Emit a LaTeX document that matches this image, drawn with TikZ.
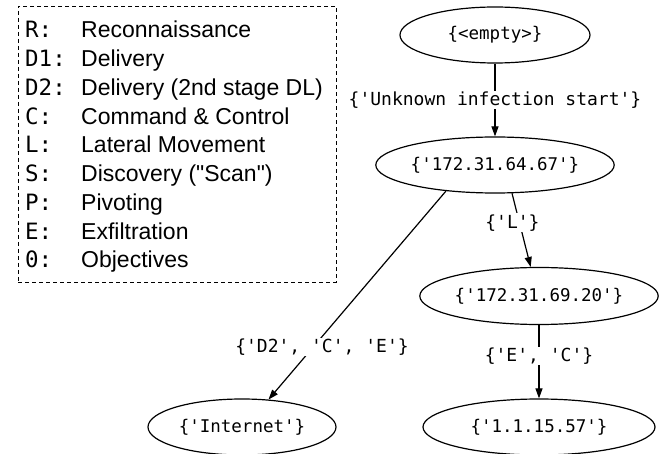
\documentclass[tikz,border=0pt]{standalone}
\usepackage{fontspec}
\setmainfont{Liberation Sans}[Ligatures=TeXOff]
\setmonofont{DejaVu Sans Mono}
\usetikzlibrary{shapes.geometric,arrows.meta}
\begin{document}
\begin{tikzpicture}[x=1pt,y=-1pt,
  gnode/.style={draw, line width=1.2pt, ellipse, inner sep=0pt,
    font=\ttfamily\fontsize{17.5}{20}\selectfont},
  elabel/.style={fill=white, inner sep=1pt,
    font=\ttfamily\fontsize{18}{21}\selectfont},
  keytext/.style={anchor=base west, inner sep=0pt,
    font=\ttfamily\fontsize{22.5}{28}\selectfont},
  desctext/.style={anchor=base west, inner sep=0pt,
    font=\fontsize{23}{28}\selectfont},
  conn/.style={line width=1.2pt, -{Triangle[length=10pt,width=7pt]}}
]
\useasboundingbox (0,0) rectangle (662,454);

% legend
\node (legend) [draw, line width=0.9pt, dash pattern=on 4pt off 3pt,
  minimum width=318pt, minimum height=276pt, inner sep=0pt] at (177,144) {};
\node[keytext] (k1) at (25,38) {R:};
\node[keytext] (k2) at (25,66.75) {D1:};
\node[keytext] (k3) at (25,95.5) {D2:};
\node[keytext] (k4) at (25,124.25) {C:};
\node[keytext] (k5) at (25,153) {L:};
\node[keytext] (k6) at (25,181.75) {S:};
\node[keytext] (k7) at (25,210.5) {P:};
\node[keytext] (k8) at (25,239.25) {E:};
\node[keytext] (k9) at (25,268) {0:};
\node[desctext] (d1) at (81,38) {Reconnaissance};
\node[desctext] (d2) at (81,66.75) {Delivery};
\node[desctext] (d3) at (81,95.5) {Delivery (2nd stage DL)};
\node[desctext] (d4) at (81,124.25) {Command \& Control};
\node[desctext] (d5) at (81,153) {Lateral Movement};
\node[desctext] (d6) at (81,181.75) {Discovery ("Scan")};
\node[desctext] (d7) at (81,210.5) {Pivoting};
\node[desctext] (d8) at (81,239.25) {Exfiltration};
\node[desctext] (d9) at (81,268) {Objectives};

% graph nodes
\node[gnode, minimum width=190pt, minimum height=56pt] (e0) at (495,35) {\{<empty>\}};
\node[gnode, minimum width=233pt, minimum height=56pt] (n1) at (495,165) {\{'172.31.64.67'\}};
\node[gnode, minimum width=232pt, minimum height=57pt] (n2) at (539,296) {\{'172.31.69.20'\}};
\node[gnode, minimum width=188pt, minimum height=56pt] (n3) at (242,427) {\{'Internet'\}};
\node[gnode, minimum width=232pt, minimum height=56pt] (n4) at (539,427) {\{'1.1.15.57'\}};

% connectors
\draw[conn] (e0) -- node[elabel] (l0) {\{'Unknown infection start'\}} (n1);
\draw[conn] (n1.208) -- (n3.46);
\node[elabel] (l1) at (322,347) {\{'D2', 'C', 'E'\}};
\draw[conn] (n1.301) -- node[elabel, pos=0.4, xshift=-7pt] (l2) {\{'L'\}} (n2.106);
\draw[conn] (n2) -- node[elabel, pos=0.42] (l3) {\{'E', 'C'\}} (n4);
\end{tikzpicture}
\end{document}
